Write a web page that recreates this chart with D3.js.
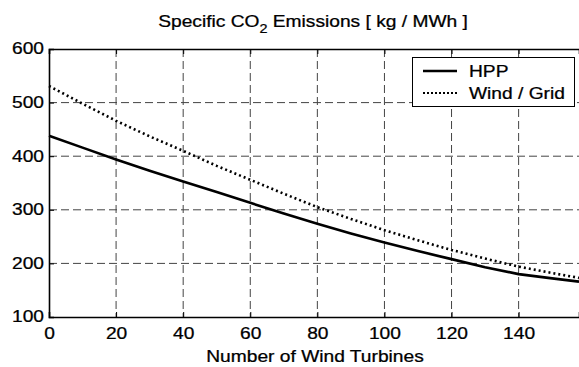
<!DOCTYPE html>
<html>
<head>
<meta charset="utf-8">
<script src="https://cdn.jsdelivr.net/npm/d3@7"></script>
<style>
  body { margin: 0; background: #fff; }
  text { font-family: "Liberation Sans", Arial, sans-serif; fill: #000; stroke: #000; stroke-width: 0.25px; }
</style>
</head>
<body>
<div id="chart"></div>
<script>
// values
var turbines = [0, 10, 20, 30, 40, 50, 60, 70, 80, 90, 100, 110, 120, 130, 140, 150, 158]
var hpp      = [438, 416, 394, 373, 353, 333, 313, 293, 274, 256, 239, 223, 208, 193, 180, 172, 166]
var windGrid = [531, 498, 466, 437, 410, 382, 356, 330, 305, 283, 262, 243, 225, 209, 194, 182, 173]
var xTicks = [0, 20, 40, 60, 80, 100, 120, 140]
var yTicks = [100, 200, 300, 400, 500, 600]
var legendNames = ["HPP", "Wind / Grid"]

var W = 579, H = 367
var margin = {top: 49, right: 0, bottom: 50, left: 49}
var width = W - margin.left - margin.right
var height = H - margin.top - margin.bottom
var sx = 1.2   // the source font is drawn wide
var fs = "16px"

var svg = d3.select("#chart")
  .append("svg")
    .attr("width", W)
    .attr("height", H)

var g = svg.append("g")
    .attr("transform", "translate(" + margin.left + "," + margin.top + ")")

var x = d3.scaleLinear().domain([0, 158]).range([0, width])
var y = d3.scaleLinear().domain([100, 600]).range([height, 0])

// grid
g.append("g").selectAll("line")
  .data(xTicks.slice(1))
  .enter().append("line")
    .attr("x1", function(d) { return x(d) }).attr("x2", function(d) { return x(d) })
    .attr("y1", 0).attr("y2", height)
    .attr("stroke", "#444").attr("stroke-width", 1)
    .attr("stroke-dasharray", "8,4")
g.append("g").selectAll("line")
  .data(yTicks.slice(1, -1))
  .enter().append("line")
    .attr("x1", 0).attr("x2", width)
    .attr("y1", function(d) { return y(d) }).attr("y2", function(d) { return y(d) })
    .attr("stroke", "#444").attr("stroke-width", 1)
    .attr("stroke-dasharray", "8,4")

// axes, ticks pointing inward
var xAxis = g.append("g")
    .attr("transform", "translate(0," + height + ")")
    .call(d3.axisBottom(x).tickValues(xTicks).tickSize(-5).tickPadding(11).tickFormat(d3.format("d")))
var xTop = g.append("g")
    .call(d3.axisTop(x).tickValues(xTicks).tickSize(-5).tickFormat(""))
var yAxis = g.append("g")
    .call(d3.axisLeft(y).tickValues(yTicks).tickSize(-5).tickPadding(0).tickFormat(d3.format("d")))

g.selectAll(".domain").attr("stroke", "#000").attr("stroke-width", 1.6)
g.selectAll(".tick line").attr("stroke", "#000").attr("stroke-width", 1)

xAxis.selectAll("text")
    .style("font-size", fs)
    .attr("dy", "0.71em")
    .attr("transform", "scale(" + sx + ",1)")
yAxis.selectAll("text")
    .style("font-size", fs)
    .attr("x", -5 / sx)
    .attr("dy", "0.3em")
    .attr("transform", "scale(" + sx + ",1)")
svg.selectAll(".tick text").style("font-family", "'Liberation Sans', Arial, sans-serif")

// lines
var line = d3.line()
  .x(function(d) { return x(d[0]) })
  .y(function(d) { return y(d[1]) })

g.append("path")
    .datum(d3.zip(turbines, hpp))
    .attr("fill", "none")
    .attr("stroke", "#000")
    .attr("stroke-width", 2.6)
    .attr("stroke-linejoin", "round")
    .attr("d", line)

g.append("path")
    .datum(d3.zip(turbines, windGrid))
    .attr("fill", "none")
    .attr("stroke", "#000")
    .attr("stroke-width", 2.6)
    .attr("stroke-dasharray", "2,3")
    .attr("d", line)

// title
var title = svg.append("text")
    .attr("transform", "translate(313,27) scale(" + sx + ",1)")
    .attr("text-anchor", "middle")
    .style("font-size", fs)
title.append("tspan").text("Specific CO")
title.append("tspan").attr("dy", 6).style("font-size", "12px").text("2")
title.append("tspan").attr("dy", -6).text(" Emissions [ kg / MWh ]")

// x label
svg.append("text")
    .attr("transform", "translate(315,362) scale(" + sx + ",1)")
    .attr("text-anchor", "middle")
    .style("font-size", fs)
    .text("Number of Wind Turbines")

// legend
var legend = svg.append("g")
legend.append("rect")
    .attr("x", 412.5).attr("y", 57.5)
    .attr("width", 162).attr("height", 49)
    .attr("fill", "#fff").attr("stroke", "#000").attr("stroke-width", 1)
var rows = legend.selectAll("g.row")
  .data(legendNames)
  .enter().append("g")
    .attr("class", "row")
    .attr("transform", function(d, i) { return "translate(0," + (71 + i * 22) + ")" })
rows.append("line")
    .attr("x1", 423).attr("x2", 457)
    .attr("stroke", "#000").attr("stroke-width", function(d, i) { return i ? 2 : 2.6 })
    .attr("stroke-dasharray", function(d, i) { return i ? "2,2" : null })
rows.append("text")
    .attr("transform", "translate(469,6) scale(" + sx + ",1)")
    .style("font-size", fs)
    .text(function(d) { return d })
</script>
</body>
</html>
